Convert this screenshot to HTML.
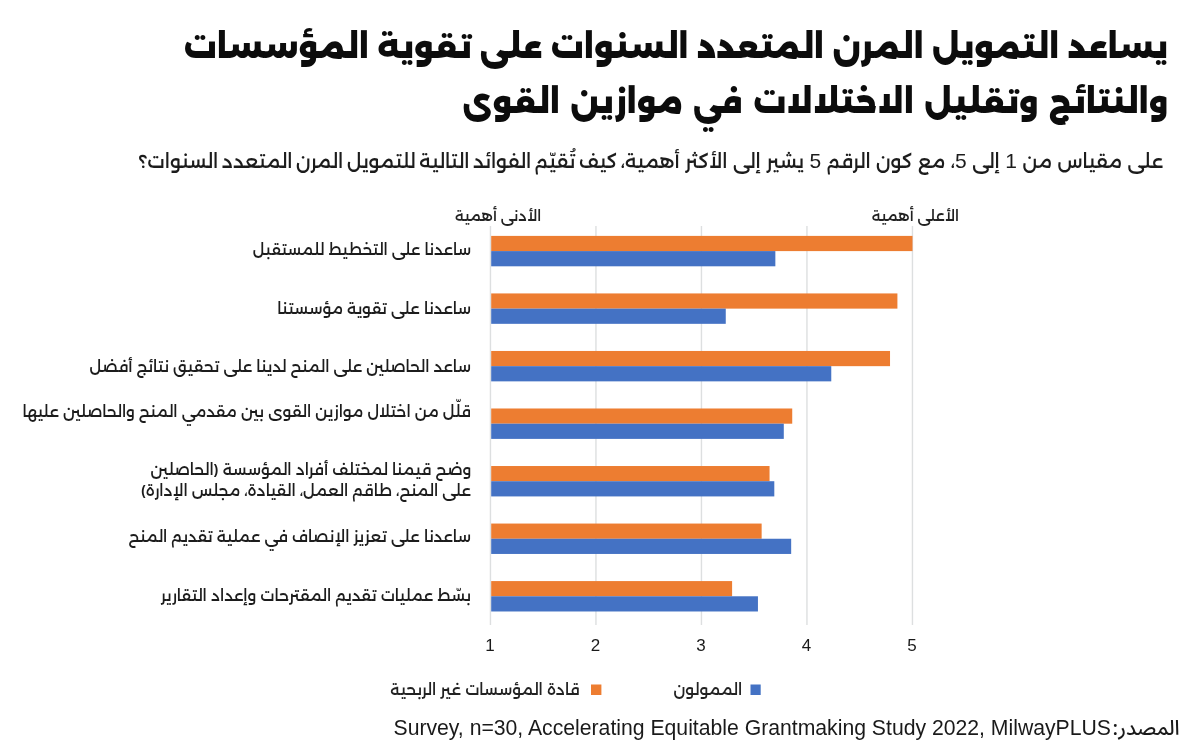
<!DOCTYPE html>
<html lang="ar">
<head>
<meta charset="utf-8">
<title>chart</title>
<style>
html,body{margin:0;padding:0;background:#fff;}
body{width:1199px;height:753px;overflow:hidden;}
svg{display:block;position:absolute;left:0;top:0;}
text{font-family:Alexandria,Cairo,"Noto Sans Arabic","DejaVu Sans",sans-serif;}
.lat{font-family:"Liberation Sans","DejaVu Sans",sans-serif;}
</style>
</head>
<body>
<svg width="1199" height="753" viewBox="0 0 1199 753">
<rect x="0" y="0" width="1199" height="753" fill="#ffffff"/>
<text textLength="984.53" lengthAdjust="spacingAndGlyphs" transform="translate(1168.00 57.60) scale(1.0000 1)" direction="rtl" text-anchor="start" font-size="30.95" font-weight="900" fill="#0c0c0c">يساعد التمويل المرن المتعدد السنوات على تقوية المؤسسات</text>
<text textLength="705.23" lengthAdjust="spacingAndGlyphs" transform="translate(1168.00 112.80) scale(1.0000 1)" direction="rtl" text-anchor="start" font-size="30.95" font-weight="900" fill="#0c0c0c" word-spacing="2.00">والنتائج وتقليل الاختلالات في موازين القوى</text>
<text textLength="1024.20" lengthAdjust="spacingAndGlyphs" transform="translate(1163.00 168.20) scale(1.0000 1)" direction="rtl" text-anchor="start" font-size="18.90" font-weight="500" fill="#1c1c1c"><tspan word-spacing="0.48">على مقياس من <tspan class="lat" font-size="21">1</tspan> إلى <tspan class="lat" font-size="21">5</tspan>، مع كون الرقم <tspan class="lat" font-size="21">5</tspan> يشير إلى الأكثر </tspan><tspan word-spacing="-1.45">أهمية، كيف تُقيّم الفوائد التالية للتمويل المرن المتعدد السنوات؟</tspan></text>
<text textLength="86.19" lengthAdjust="spacingAndGlyphs" transform="translate(541.20 221.00) scale(1.0000 1)" direction="rtl" text-anchor="start" font-size="14.50" font-weight="500" fill="#222">الأدنى أهمية</text>
<text textLength="87.31" lengthAdjust="spacingAndGlyphs" transform="translate(959.00 221.00) scale(1.0000 1)" direction="rtl" text-anchor="start" font-size="14.50" font-weight="500" fill="#222">الأعلى أهمية</text>
<rect x="489.75" y="226" width="1.4" height="399" fill="#dddfe0"/>
<rect x="595.25" y="226" width="1.4" height="399" fill="#dddfe0"/>
<rect x="700.75" y="226" width="1.4" height="399" fill="#dddfe0"/>
<rect x="806.25" y="226" width="1.4" height="399" fill="#dddfe0"/>
<rect x="911.75" y="226" width="1.4" height="399" fill="#dddfe0"/>
<rect x="491.20" y="235.90" width="421.30" height="15.20" fill="#ed7d31"/>
<rect x="491.20" y="251.10" width="284.15" height="15.20" fill="#4472c4"/>
<text textLength="218.20" lengthAdjust="spacingAndGlyphs" transform="translate(471.00 254.60) scale(1.0000 1)" direction="rtl" text-anchor="start" font-size="15.35" font-weight="500" fill="#1c1c1c">ساعدنا على التخطيط للمستقبل</text>
<rect x="491.20" y="293.43" width="406.21" height="15.20" fill="#ed7d31"/>
<rect x="491.20" y="308.63" width="234.56" height="15.20" fill="#4472c4"/>
<text textLength="193.80" lengthAdjust="spacingAndGlyphs" transform="translate(471.00 314.30) scale(1.0000 1)" direction="rtl" text-anchor="start" font-size="15.35" font-weight="500" fill="#1c1c1c">ساعدنا على تقوية مؤسستنا</text>
<rect x="491.20" y="350.96" width="398.83" height="15.20" fill="#ed7d31"/>
<rect x="491.20" y="366.16" width="340.07" height="15.20" fill="#4472c4"/>
<text textLength="381.61" lengthAdjust="spacingAndGlyphs" transform="translate(471.00 372.10) scale(1.0000 1)" direction="rtl" text-anchor="start" font-size="15.35" font-weight="500" fill="#1c1c1c">ساعد الحاصلين على المنح لدينا على تحقيق نتائج أفضل</text>
<rect x="491.20" y="408.49" width="301.03" height="15.20" fill="#ed7d31"/>
<rect x="491.20" y="423.69" width="292.59" height="15.20" fill="#4472c4"/>
<text textLength="448.64" lengthAdjust="spacingAndGlyphs" transform="translate(471.00 416.90) scale(1.0000 1)" direction="rtl" text-anchor="start" font-size="15.35" font-weight="500" fill="#1c1c1c">قلّل من اختلال موازين القوى بين مقدمي المنح والحاصلين عليها</text>
<rect x="491.20" y="466.02" width="278.35" height="15.20" fill="#ed7d31"/>
<rect x="491.20" y="481.22" width="283.10" height="15.20" fill="#4472c4"/>
<text textLength="320.45" lengthAdjust="spacingAndGlyphs" transform="translate(471.00 474.60) scale(1.0000 1)" direction="rtl" text-anchor="start" font-size="15.35" font-weight="500" fill="#1c1c1c">وضح قيمنا لمختلف أفراد المؤسسة (الحاصلين</text>
<text textLength="330.23" lengthAdjust="spacingAndGlyphs" transform="translate(471.00 495.80) scale(1.0000 1)" direction="rtl" text-anchor="start" font-size="15.35" font-weight="500" fill="#1c1c1c">على المنح، طاقم العمل، القيادة، مجلس الإدارة)</text>
<rect x="491.20" y="523.55" width="270.44" height="15.20" fill="#ed7d31"/>
<rect x="491.20" y="538.75" width="299.97" height="15.20" fill="#4472c4"/>
<text textLength="342.44" lengthAdjust="spacingAndGlyphs" transform="translate(471.00 542.30) scale(1.0000 1)" direction="rtl" text-anchor="start" font-size="15.35" font-weight="500" fill="#1c1c1c">ساعدنا على تعزيز الإنصاف في عملية تقديم المنح</text>
<rect x="491.20" y="581.08" width="240.90" height="15.20" fill="#ed7d31"/>
<rect x="491.20" y="596.28" width="266.74" height="15.20" fill="#4472c4"/>
<text textLength="310.19" lengthAdjust="spacingAndGlyphs" transform="translate(471.00 600.50) scale(1.0000 1)" direction="rtl" text-anchor="start" font-size="15.35" font-weight="500" fill="#1c1c1c">بسّط عمليات تقديم المقترحات وإعداد التقارير</text>
<text textLength="9.47" lengthAdjust="spacingAndGlyphs" class="lat" x="490.10" y="651" text-anchor="middle" font-size="17" fill="#1a1a1a">1</text>
<text textLength="9.47" lengthAdjust="spacingAndGlyphs" class="lat" x="595.60" y="651" text-anchor="middle" font-size="17" fill="#1a1a1a">2</text>
<text textLength="9.47" lengthAdjust="spacingAndGlyphs" class="lat" x="701.10" y="651" text-anchor="middle" font-size="17" fill="#1a1a1a">3</text>
<text textLength="9.47" lengthAdjust="spacingAndGlyphs" class="lat" x="806.60" y="651" text-anchor="middle" font-size="17" fill="#1a1a1a">4</text>
<text textLength="9.47" lengthAdjust="spacingAndGlyphs" class="lat" x="912.10" y="651" text-anchor="middle" font-size="17" fill="#1a1a1a">5</text>
<rect x="750.5" y="684.5" width="10.2" height="10.5" fill="#4472c4"/>
<text textLength="68.73" lengthAdjust="spacingAndGlyphs" transform="translate(742.20 695.40) scale(1.0000 1)" direction="rtl" text-anchor="start" font-size="15.35" font-weight="500" fill="#222">الممولون</text>
<rect x="591" y="684.5" width="10.4" height="10.5" fill="#ed7d31"/>
<text textLength="189.27" lengthAdjust="spacingAndGlyphs" transform="translate(579.60 695.40) scale(1.0000 1)" direction="rtl" text-anchor="start" font-size="15.35" font-weight="500" fill="#222">قادة المؤسسات غير الربحية</text>
<text textLength="717.44" lengthAdjust="spacingAndGlyphs" class="lat" x="393.5" y="735.0" font-size="21.2" fill="#1a1a1a">Survey, n=30, Accelerating Equitable Grantmaking Study 2022, MilwayPLUS</text>
<text textLength="67.08" lengthAdjust="spacingAndGlyphs" x="1179.7" y="735.2" direction="rtl" text-anchor="start" font-size="20.5" font-weight="500" fill="#1a1a1a" style="font-family:'Noto Sans Arabic','DejaVu Sans',sans-serif">المصدر:</text>
</svg>
</body>
</html>
